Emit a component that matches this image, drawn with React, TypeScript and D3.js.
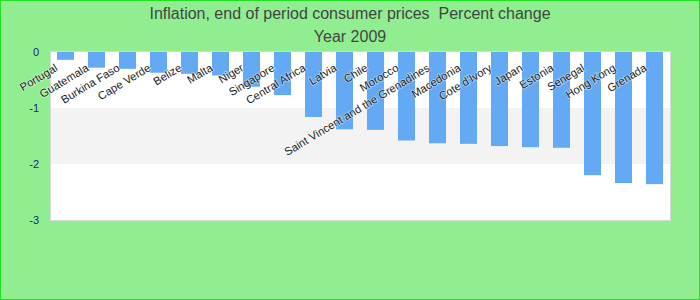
import React from "react";
import * as d3 from "d3";

const countries = [
  "Portugal", "Guatemala", "Burkina Faso", "Cape Verde", "Belize", "Malta", "Niger",
  "Singapore", "Central Africa", "Latvia", "Chile", "Morocco",
  "Saint Vincent and the Grenadines", "Macedonia", "Cote d'Ivory", "Japan", "Estonia",
  "Senegal", "Hong Kong", "Grenada",
];
const values = [
  -0.14, -0.28, -0.30, -0.37, -0.39, -0.42, -0.62, -0.77, -1.16, -1.38, -1.39, -1.58,
  -1.63, -1.64, -1.68, -1.70, -1.71, -2.20, -2.34, -2.36,
];
const yTicks = [0, -1, -2, -3];
const titleLines = ["Inflation, end of period consumer prices  Percent change", "Year 2009"];

const W = 700, H = 300;
const M = { left: 50, right: 30, top: 52, bottom: 80 };

export default function App() {
  const x = d3.scaleBand<string>().domain(countries).range([M.left, W - M.right]).paddingInner(0.45).paddingOuter(0.225);
  const y = d3.scaleLinear().domain([-3, 0]).range([H - M.bottom, M.top]);
  const bands = [[0, -1], [-1, -2], [-2, -3]];
  const font = "Liberation Sans, Arial, sans-serif";
  return (
    <svg width={W} height={H} style={{ position: "absolute", left: 0, top: 0 }} fontFamily={font}>
      <rect x={0.5} y={0.5} width={W - 1} height={H - 1} fill="#90ee90" stroke="#22e022" />
      {titleLines.map((t, i) => (
        <text key={i} x={W / 2} y={19 + i * 23} textAnchor="middle" fontSize={16} fill="#444" style={{ whiteSpace: "pre" }}>{t}</text>
      ))}
      {bands.map(([a, b], i) => (
        <rect key={i} x={M.left} y={y(a)} width={W - M.left - M.right} height={y(b) - y(a)} fill={i === 1 ? "#f3f3f3" : "#ffffff"} />
      ))}
      <rect x={M.left + 0.5} y={M.top - 0.5} width={W - M.left - M.right} height={y(-3) - y(0) + 1} fill="none" stroke="#d8d8d8" />
      {countries.map((c, i) => (
        <rect key={c} x={x(c)} y={y(0)} width={x.bandwidth()} height={y(values[i]) - y(0)} fill="#63a9f4" />
      ))}
      {yTicks.map((t) => (
        <text key={t} x={39} y={y(t) + 4} textAnchor="end" fontSize={11} fill="#1a1a8c">{t}</text>
      ))}
      {countries.map((c) => {
        const cx = (x(c) as number) + x.bandwidth() / 2;
        return (
          <text key={c} transform={`translate(${cx - 7},${y(0) + 18}) rotate(-31)`} textAnchor="end" fontSize={11.2} fill="#222"
            stroke="#ffffff" strokeWidth={1.5} strokeOpacity={0.5} paintOrder="stroke">{c}</text>
        );
      })}
    </svg>
  );
}
